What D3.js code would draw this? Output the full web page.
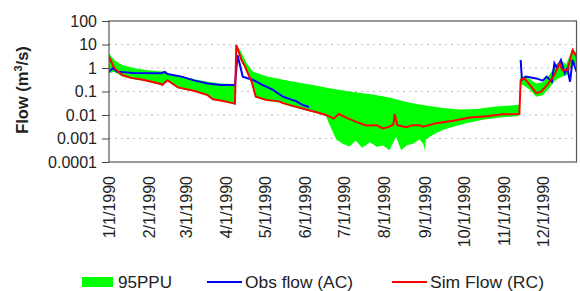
<!DOCTYPE html>
<html>
<head>
<meta charset="utf-8">
<script src="https://cdn.jsdelivr.net/npm/d3@7"></script>
<style>
  body { margin: 0; background: #fff; }
  svg { display: block; font-family: "Liberation Sans", Arial, sans-serif; }
</style>
</head>
<body>
<div id="chart"></div>
<script>
// values (daily flows, m3/s, log scale)
const yTicks = [0.0001, 0.001, 0.01, 0.1, 1, 10, 100];
const legendLabels = ['95PPU', 'Obs flow (AC)', 'Sim Flow (RC)'];

const simFlow = [
    ['1990-01-01', 3.0], ['1990-01-05', 1.0], ['1990-01-11', 0.5], ['1990-01-18', 0.38],
    ['1990-01-28', 0.31], ['1990-02-10', 0.21], ['1990-02-11', 0.19], ['1990-02-15', 0.3],
    ['1990-02-23', 0.15], ['1990-03-08', 0.105], ['1990-03-18', 0.07], ['1990-03-22', 0.047],
    ['1990-03-28', 0.041], ['1990-04-06', 0.032], ['1990-04-08', 0.03], ['1990-04-09', 9.5],
    ['1990-04-13', 2.2], ['1990-04-15', 1.4], ['1990-04-21', 0.25], ['1990-04-24', 0.06],
    ['1990-05-02', 0.044], ['1990-05-12', 0.038], ['1990-05-15', 0.032], ['1990-05-22', 0.025],
    ['1990-05-30', 0.019], ['1990-06-04', 0.016], ['1990-06-10', 0.013], ['1990-06-17', 0.01],
    ['1990-06-20', 0.0085], ['1990-06-23', 0.007], ['1990-06-27', 0.011], ['1990-07-03', 0.0075],
    ['1990-07-10', 0.0052], ['1990-07-18', 0.0036], ['1990-07-26', 0.0037], ['1990-07-31', 0.0027],
    ['1990-08-05', 0.0032], ['1990-08-08', 0.004], ['1990-08-09', 0.011], ['1990-08-11', 0.0037],
    ['1990-08-18', 0.003], ['1990-08-23', 0.0037], ['1990-08-28', 0.0037], ['1990-08-31', 0.0032],
    ['1990-09-10', 0.0045], ['1990-09-23', 0.0057], ['1990-10-06', 0.0078], ['1990-10-19', 0.0089],
    ['1990-10-31', 0.0107], ['1990-11-13', 0.011], ['1990-11-14', 0.31], ['1990-11-17', 0.36],
    ['1990-11-21', 0.19], ['1990-11-26', 0.085], ['1990-11-30', 0.1], ['1990-12-05', 0.21],
    ['1990-12-10', 0.5], ['1990-12-14', 1.6], ['1990-12-16', 0.8], ['1990-12-20', 0.8],
    ['1990-12-24', 5.8], ['1990-12-27', 3.0]
];

const obsFlow = [
    ['1990-01-01', 0.7], ['1990-01-04', 1.0], ['1990-01-07', 0.7], ['1990-01-20', 0.62],
    ['1990-02-10', 0.6], ['1990-02-13', 0.68], ['1990-02-15', 0.55], ['1990-02-26', 0.43],
    ['1990-03-08', 0.29], ['1990-03-18', 0.22], ['1990-03-28', 0.19], ['1990-04-08', 0.19],
    ['1990-04-10', 3.5], ['1990-04-14', 0.43], ['1990-04-22', 0.31], ['1990-04-29', 0.19],
    ['1990-05-07', 0.12], ['1990-05-15', 0.06], ['1990-05-22', 0.044], ['1990-05-25', 0.039],
    ['1990-05-30', 0.027], ['1990-06-04', 0.022], ['1990-06-05', null],
    ['1990-11-14', 2.2], ['1990-11-15', 0.31], ['1990-11-18', 0.43], ['1990-11-26', 0.36],
    ['1990-12-01', 0.29], ['1990-12-04', 0.43], ['1990-12-08', 0.26], ['1990-12-10', 1.6],
    ['1990-12-12', 1.0], ['1990-12-15', 2.2], ['1990-12-18', 0.6], ['1990-12-20', 1.0],
    ['1990-12-22', 0.26], ['1990-12-24', 2.2], ['1990-12-27', 0.7]
];

const ppuUpper = [
    ['1990-01-01', 4.2], ['1990-01-05', 2.2], ['1990-01-11', 1.35], ['1990-01-21', 0.98],
    ['1990-01-31', 0.8], ['1990-02-13', 0.7], ['1990-02-18', 0.5], ['1990-02-26', 0.45],
    ['1990-03-08', 0.33], ['1990-03-18', 0.26], ['1990-03-28', 0.22], ['1990-04-08', 0.21],
    ['1990-04-09', 9.5], ['1990-04-12', 5.8], ['1990-04-17', 1.6], ['1990-04-22', 0.7],
    ['1990-05-02', 0.45], ['1990-05-20', 0.28], ['1990-06-07', 0.19], ['1990-06-22', 0.13],
    ['1990-07-08', 0.095], ['1990-07-23', 0.075], ['1990-08-05', 0.055], ['1990-08-18', 0.036],
    ['1990-08-28', 0.028], ['1990-09-15', 0.02], ['1990-09-28', 0.017], ['1990-10-11', 0.018],
    ['1990-10-26', 0.023], ['1990-11-13', 0.027], ['1990-11-14', 0.43], ['1990-11-18', 0.45],
    ['1990-11-26', 0.22], ['1990-12-01', 0.25], ['1990-12-06', 0.5], ['1990-12-11', 1.35],
    ['1990-12-15', 2.2], ['1990-12-19', 1.4], ['1990-12-24', 6.9], ['1990-12-27', 4.2]
];

const ppuLower = [
    ['1990-01-01', 0.6], ['1990-01-05', 0.7], ['1990-01-11', 0.45], ['1990-01-18', 0.35],
    ['1990-01-28', 0.29], ['1990-02-10', 0.19], ['1990-02-11', 0.18], ['1990-02-15', 0.28],
    ['1990-02-23', 0.14], ['1990-03-08', 0.1], ['1990-03-18', 0.066], ['1990-03-22', 0.045],
    ['1990-03-28', 0.039], ['1990-04-08', 0.03], ['1990-04-09', 8.0], ['1990-04-13', 1.8],
    ['1990-04-15', 1.2], ['1990-04-21', 0.22], ['1990-04-24', 0.055], ['1990-05-02', 0.04],
    ['1990-05-12', 0.034], ['1990-05-22', 0.022], ['1990-05-30', 0.017], ['1990-06-10', 0.012],
    ['1990-06-17', 0.009], ['1990-06-20', 0.0037], ['1990-06-25', 0.0009], ['1990-06-30', 0.0006],
    ['1990-07-05', 0.00046], ['1990-07-10', 0.0008], ['1990-07-15', 0.0004], ['1990-07-21', 0.0007],
    ['1990-07-26', 0.00045], ['1990-07-31', 0.0005], ['1990-08-05', 0.00032], ['1990-08-10', 0.0012],
    ['1990-08-14', 0.00032], ['1990-08-18', 0.0005], ['1990-08-23', 0.0006], ['1990-08-28', 0.0009],
    ['1990-08-31', 0.0006], ['1990-09-01', 0.00032], ['1990-09-02', 0.0009], ['1990-09-05', 0.0012],
    ['1990-09-10', 0.0017], ['1990-09-15', 0.0023], ['1990-09-23', 0.0032], ['1990-10-03', 0.0045],
    ['1990-10-16', 0.0063], ['1990-10-29', 0.0078], ['1990-11-11', 0.0089], ['1990-11-13', 0.0095],
    ['1990-11-14', 0.19], ['1990-11-16', 0.19], ['1990-11-21', 0.12], ['1990-11-26', 0.06],
    ['1990-12-01', 0.07], ['1990-12-06', 0.14], ['1990-12-11', 0.31], ['1990-12-16', 0.43],
    ['1990-12-20', 0.5], ['1990-12-24', 1.5], ['1990-12-27', 1.3]
];

const W = 580, H = 291;
const plot = { left: 109, right: 576.5, top: 21, bottom: 162 };
const parse = d3.timeParse('%Y-%m-%d');

const svg = d3.select('#chart').append('svg')
    .attr('width', W)
    .attr('height', H);

const x = d3.scaleTime()
    .domain([parse('1990-01-01'), parse('1990-12-27')])
    .range([plot.left, plot.right]);

const y = d3.scaleLog()
    .domain([0.0001, 100])
    .range([plot.bottom, plot.top]);

svg.append('clipPath').attr('id', 'clip')
    .append('rect')
    .attr('x', plot.left).attr('y', plot.top)
    .attr('width', plot.right - plot.left).attr('height', plot.bottom - plot.top);

// gridlines
svg.append('g')
    .selectAll('line')
    .data(yTicks.filter(v => v > 0.0001 && v < 100))
    .join('line')
    .attr('x1', plot.left).attr('x2', plot.right)
    .attr('y1', d => y(d)).attr('y2', d => y(d))
    .attr('stroke', '#bbb')
    .attr('stroke-dasharray', '2,4');

const g = svg.append('g').attr('clip-path', 'url(#clip)');

// 95PPU band: upper edge forward, lower edge back
const bandPts = ppuUpper.concat(ppuLower.slice().reverse());
const bandLine = d3.line()
    .x(d => x(parse(d[0])))
    .y(d => y(d[1]));
g.append('path')
    .attr('d', bandLine(bandPts) + 'Z')
    .attr('fill', '#00ff00')
    .attr('stroke', 'none');

const flowLine = d3.line()
    .defined(d => d[1] != null)
    .x(d => x(parse(d[0])))
    .y(d => y(d[1]));

g.append('path')
    .attr('d', flowLine(obsFlow))
    .attr('fill', 'none')
    .attr('stroke', '#0000ff')
    .attr('stroke-width', 2);

g.append('path')
    .attr('d', flowLine(simFlow))
    .attr('fill', 'none')
    .attr('stroke', '#ff0000')
    .attr('stroke-width', 2);

// frame
svg.append('rect')
    .attr('x', plot.left).attr('y', plot.top)
    .attr('width', plot.right - plot.left).attr('height', plot.bottom - plot.top)
    .attr('fill', 'none')
    .attr('stroke', '#555')
    .attr('stroke-width', 1.2);

// y axis
const yAxis = svg.append('g')
    .attr('transform', `translate(${plot.left},0)`)
    .call(d3.axisLeft(y).tickValues(yTicks).tickFormat(d => String(d)).tickSize(7).tickPadding(5));
yAxis.select('.domain').remove();
yAxis.selectAll('.tick line').attr('stroke', '#444');
yAxis.selectAll('.tick text')
    .attr('fill', '#222')
    .style('font-size', '16px')
    .style('font-family', '"Liberation Sans", Arial, sans-serif');

// x axis
const xAxis = svg.append('g')
    .attr('transform', `translate(0,${plot.bottom})`)
    .call(d3.axisBottom(x)
        .tickValues(d3.timeMonth.range(parse('1990-01-01'), parse('1990-12-02')))
        .tickFormat(d3.timeFormat('%-m/%-d/%Y'))
        .tickSize(0));
xAxis.select('.domain').remove();
xAxis.selectAll('.tick text')
    .attr('transform', 'rotate(-90)')
    .attr('x', -14)
    .attr('y', 0)
    .attr('dy', '0.35em')
    .attr('fill', '#222')
    .style('text-anchor', 'end')
    .style('font-size', '16px')
    .style('font-family', '"Liberation Sans", Arial, sans-serif');

// axis title
const title = svg.append('text')
    .attr('transform', 'translate(28,90) rotate(-90)')
    .attr('text-anchor', 'middle')
    .style('font-size', '16.5px')
    .style('font-weight', 'bold')
    .attr('fill', '#222');
title.append('tspan').text('Flow (m');
title.append('tspan').attr('dy', -6).style('font-size', '11px').text('3');
title.append('tspan').attr('dy', 6).text('/s)');

// legend
const legend = svg.append('g').attr('transform', 'translate(0,282)');
const items = [
    { label: legendLabels[0], x: 82, type: 'rect', color: '#00ff00', len: 54 },
    { label: legendLabels[1], x: 207, type: 'line', color: '#0000ff', len: 108 },
    { label: legendLabels[2], x: 392, type: 'line', color: '#ff0000', len: 114 }
];
items.forEach(it => {
    if (it.type === 'rect') {
        legend.append('rect')
            .attr('x', it.x).attr('y', -5)
            .attr('width', 31).attr('height', 10)
            .attr('fill', it.color);
    } else {
        legend.append('line')
            .attr('x1', it.x).attr('x2', it.x + 35)
            .attr('stroke', it.color).attr('stroke-width', 2);
    }
    legend.append('text')
        .attr('x', it.x + (it.type === 'rect' ? 36 : 38))
        .attr('dy', '0.35em')
        .attr('textLength', it.len)
        .attr('lengthAdjust', 'spacingAndGlyphs')
        .style('font-size', '16px')
        .attr('fill', '#222')
        .text(it.label);
});
</script>
</body>
</html>
